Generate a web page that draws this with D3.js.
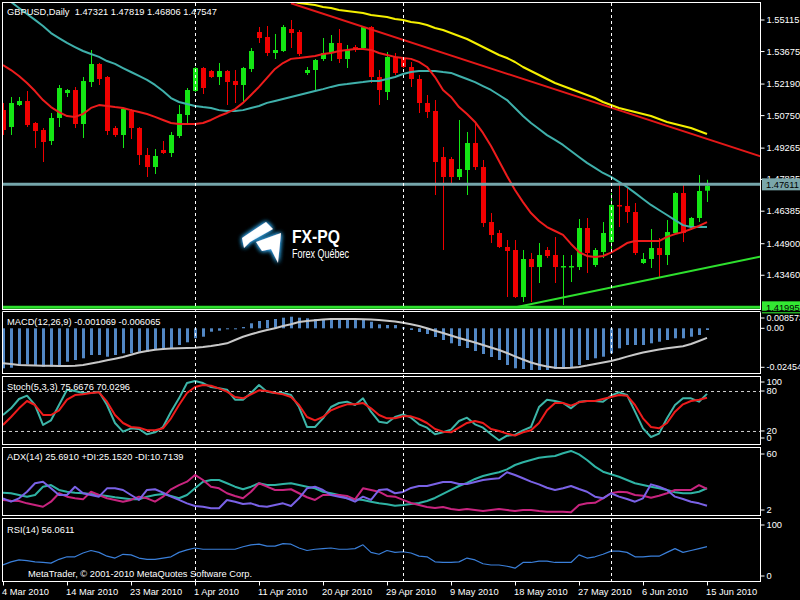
<!DOCTYPE html>
<html><head><meta charset="utf-8">
<script src="https://cdn.jsdelivr.net/npm/d3@7"></script>
<style>
html,body{margin:0;padding:0;background:#000;}
svg{display:block;}
</style></head><body>
<svg id="chart" width="800" height="600"></svg>
<script>
// ---------------- DATA ----------------
const symbol = "GBPUSD", timeframe = "Daily";
const tickIdx = [0, 8, 16, 24, 32, 40, 48, 56, 64, 72, 80, 88];
const tickLabels = ["4 Mar 2010","14 Mar 2010","23 Mar 2010","1 Apr 2010","11 Apr 2010","20 Apr 2010","29 Apr 2010","9 May 2010","18 May 2010","27 May 2010","6 Jun 2010","15 Jun 2010"];
const separatorIdx = [24, 50, 76];

const opens  = [1.51005,1.50229,1.51234,1.51416,1.50412,1.50092,1.49590,1.50640,1.51781,1.51918,1.50366,1.52284,1.53106,1.52512,1.50183,1.49864,1.50960,1.50183,1.48950,1.48402,1.49179,1.49042,1.49818,1.50777,1.51873,1.52923,1.52786,1.52512,1.52786,1.52329,1.52147,1.52877,1.54567,1.54339,1.53608,1.53699,1.54704,1.54567,1.52695,1.52832,1.53334,1.53608,1.54065,1.53334,1.53882,1.53836,1.54795,1.52512,1.51827,1.53425,1.53334,1.52969,1.52421,1.51325,1.50960,1.48859,1.48768,1.47946,1.48266,1.49498,1.48402,1.45891,1.45389,1.44750,1.44613,1.42466,1.44202,1.43836,1.44613,1.44384,1.43836,1.43836,1.43836,1.45617,1.43928,1.44521,1.44978,1.46667,1.46622,1.46348,1.44019,1.44202,1.44704,1.44384,1.45389,1.47215,1.45663,1.46074,1.47321];
const highs  = [1.51325,1.51599,1.51599,1.51873,1.50457,1.50183,1.50868,1.52147,1.51964,1.52055,1.52512,1.53745,1.53151,1.52558,1.50275,1.51096,1.51051,1.50229,1.49270,1.49224,1.49590,1.50001,1.51234,1.52010,1.52969,1.52969,1.52832,1.53151,1.52832,1.52832,1.52969,1.53836,1.54795,1.54841,1.54476,1.54886,1.55115,1.54658,1.52969,1.53334,1.54293,1.54430,1.54704,1.53973,1.53973,1.54841,1.54841,1.52832,1.53654,1.53608,1.53380,1.53197,1.52603,1.51690,1.51462,1.49316,1.48859,1.50549,1.50001,1.50457,1.48722,1.46302,1.45526,1.45069,1.45069,1.44613,1.44476,1.44932,1.44750,1.45206,1.44384,1.44384,1.46028,1.46074,1.44704,1.45891,1.47215,1.47672,1.47444,1.46759,1.44476,1.45571,1.45160,1.45982,1.47261,1.47672,1.46119,1.48037,1.47819];
const lows   = [1.49864,1.49864,1.51188,1.50229,1.49270,1.48631,1.49407,1.50229,1.51599,1.50183,1.49727,1.52055,1.52147,1.49864,1.49772,1.49270,1.49681,1.48494,1.47946,1.48083,1.48996,1.48859,1.49727,1.50412,1.51827,1.51736,1.52466,1.52147,1.51234,1.51325,1.51325,1.52740,1.54065,1.53471,1.53334,1.53654,1.53836,1.53471,1.52603,1.51873,1.53243,1.53243,1.53151,1.52923,1.53654,1.53790,1.52238,1.51234,1.51462,1.52603,1.52923,1.52055,1.50868,1.50640,1.47124,1.44613,1.47581,1.47809,1.47124,1.48266,1.45663,1.44932,1.44704,1.42466,1.42421,1.42238,1.42238,1.43106,1.44247,1.43106,1.42101,1.43151,1.43699,1.43562,1.43836,1.44247,1.44476,1.45663,1.45845,1.44384,1.43973,1.43791,1.43380,1.43928,1.45343,1.44978,1.45526,1.45891,1.46806];
const closes = [1.50092,1.51325,1.51416,1.50320,1.50046,1.49544,1.50640,1.52010,1.51918,1.50366,1.52329,1.53106,1.52421,1.50046,1.49864,1.51051,1.50183,1.48950,1.48402,1.48905,1.49042,1.49864,1.50823,1.51918,1.52923,1.52010,1.52512,1.52786,1.52284,1.52147,1.52923,1.53699,1.54293,1.53608,1.53745,1.54795,1.54521,1.53562,1.52832,1.53288,1.53608,1.54065,1.53334,1.53745,1.53745,1.54795,1.52512,1.51918,1.53425,1.52695,1.52969,1.52421,1.51325,1.50914,1.48631,1.47946,1.47946,1.48311,1.49498,1.48402,1.45845,1.45297,1.44750,1.44567,1.42466,1.44202,1.43836,1.44384,1.44339,1.43836,1.43882,1.43882,1.45617,1.44476,1.44613,1.45389,1.46667,1.46622,1.46348,1.44476,1.44202,1.44704,1.44384,1.45434,1.47215,1.45389,1.46074,1.47307,1.47547];

const maFast = [1.5306,1.5283,1.5256,1.5224,1.5187,1.5146,1.5114,1.5091,1.5073,1.5069,1.5082,1.5110,1.5123,1.5119,1.5114,1.5110,1.5100,1.5091,1.5082,1.5069,1.5055,1.5041,1.5037,1.5037,1.5037,1.5041,1.5055,1.5073,1.5087,1.5105,1.5133,1.5169,1.5206,1.5247,1.5288,1.5315,1.5334,1.5338,1.5343,1.5347,1.5356,1.5361,1.5370,1.5375,1.5379,1.5379,1.5375,1.5361,1.5352,1.5343,1.5338,1.5334,1.5320,1.5297,1.5251,1.5192,1.5160,1.5114,1.5082,1.5046,1.4996,1.4936,1.4868,1.4799,1.4735,1.4680,1.4630,1.4594,1.4566,1.4548,1.4530,1.4489,1.4452,1.4434,1.4429,1.4434,1.4449,1.4470,1.4493,1.4502,1.4502,1.4502,1.4502,1.4521,1.4534,1.4543,1.4557,1.4571,1.4589];
const maSlow = [1.5626,1.5594,1.5566,1.5539,1.5512,1.5484,1.5452,1.5429,1.5407,1.5388,1.5370,1.5356,1.5343,1.5324,1.5311,1.5292,1.5274,1.5256,1.5238,1.5215,1.5187,1.5155,1.5137,1.5128,1.5119,1.5114,1.5110,1.5100,1.5096,1.5096,1.5100,1.5110,1.5119,1.5133,1.5142,1.5151,1.5160,1.5169,1.5178,1.5187,1.5196,1.5206,1.5215,1.5219,1.5224,1.5228,1.5233,1.5233,1.5242,1.5251,1.5265,1.5274,1.5279,1.5279,1.5279,1.5274,1.5270,1.5256,1.5242,1.5228,1.5210,1.5192,1.5169,1.5146,1.5110,1.5073,1.5041,1.5014,1.4986,1.4964,1.4941,1.4913,1.4886,1.4859,1.4836,1.4813,1.4795,1.4772,1.4749,1.4722,1.4694,1.4667,1.4644,1.4621,1.4598,1.4575,1.4566,1.4566,1.4566];
const maLongStart = 36;
const maLong = [1.55982,1.55891,1.55845,1.55800,1.55708,1.55663,1.55571,1.55526,1.55480,1.55434,1.55343,1.55297,1.55252,1.55160,1.55115,1.55023,1.54978,1.54886,1.54749,1.54658,1.54521,1.54384,1.54247,1.54065,1.53882,1.53699,1.53517,1.53380,1.53197,1.52969,1.52786,1.52603,1.52421,1.52238,1.52101,1.51964,1.51827,1.51690,1.51553,1.51370,1.51234,1.51096,1.51005,1.50914,1.50823,1.50731,1.50594,1.50457,1.50366,1.50275,1.50183,1.50046,1.49909];

const redTrendIdx = [36, 95], redTrendPrice = [1.5588, 1.4885];
const greenTrendIdx = [64.25, 94.75], greenTrendPrice = [1.4201, 1.4432];
const hLinePrices = [1.47611, 1.41995];
const priceTicks = [1.55115,1.53675,1.52190,1.50750,1.49265,1.47835,1.46385,1.44900,1.43460];

const macdMain = [-0.02517,-0.02480,-0.02310,-0.02266,-0.02310,-0.02417,-0.02417,-0.02310,-0.02102,-0.01995,-0.01888,-0.01680,-0.01680,-0.01787,-0.01680,-0.01573,-0.01573,-0.01473,-0.01473,-0.01366,-0.01259,-0.01259,-0.01051,-0.00881,-0.00629,-0.00529,-0.00214,-0.00150,-0.00044,-0.00020,0.00080,0.00315,0.00459,0.00522,0.00585,0.00667,0.00730,0.00667,0.00629,0.00585,0.00585,0.00585,0.00585,0.00585,0.00585,0.00522,0.00415,0.00252,0.00208,0.00208,0.00050,-0.00107,-0.00233,-0.00359,-0.00548,-0.00736,-0.00944,-0.01114,-0.01240,-0.01429,-0.01617,-0.01806,-0.01995,-0.02310,-0.02517,-0.02561,-0.02624,-0.02624,-0.02624,-0.02561,-0.02561,-0.02480,-0.02310,-0.01995,-0.01888,-0.01787,-0.01573,-0.01259,-0.01051,-0.01051,-0.01051,-0.00944,-0.00843,-0.00736,-0.00629,-0.00629,-0.00529,-0.00422,-0.001069];
const macdSignal = [-0.02203,-0.02247,-0.02310,-0.02328,-0.02341,-0.02354,-0.02360,-0.02373,-0.02373,-0.02360,-0.02310,-0.02215,-0.02121,-0.02014,-0.01913,-0.01806,-0.01661,-0.01523,-0.01429,-0.01353,-0.01303,-0.01278,-0.01259,-0.01240,-0.01221,-0.01177,-0.01114,-0.01038,-0.00944,-0.00736,-0.00529,-0.00378,-0.00233,-0.00107,0.00006,0.00145,0.00258,0.00396,0.00459,0.00510,0.00554,0.00579,0.00585,0.00585,0.00585,0.00573,0.00548,0.00522,0.00478,0.00428,0.00346,0.00252,0.00145,0.00000,-0.00151,-0.00296,-0.00453,-0.00610,-0.00755,-0.00894,-0.01051,-0.01208,-0.01366,-0.01554,-0.01762,-0.01963,-0.02152,-0.02297,-0.02404,-0.02480,-0.02498,-0.02486,-0.02435,-0.02347,-0.02247,-0.02146,-0.02058,-0.01932,-0.01781,-0.01649,-0.01523,-0.01429,-0.01340,-0.01259,-0.01189,-0.01133,-0.00988,-0.00799,-0.006065];
const macdTicks = [0.008573, 0.00, -0.02454];
const macdTickLabels = ["0.008573", "0.00", "-0.02454"];

const stochK = [44,54,68,73,59,29,36,59,82,80,77,77,79,59,32,19,24,23,15,18,26,49,69,92,95,92,86,84,82,67,67,77,89,79,77,77,74,56,26,26,39,56,62,64,59,69,49,34,32,41,45,40,30,25,15,18,22,35,40,30,25,15,6,13,14,21,26,56,67,65,62,54,64,65,65,64,73,78,74,49,24,11,16,39,59,69,69,64,75.67];
const stochD = [29,41,54,65,59,44,44,51,67,74,75,77,78,64,44,32,26,25,21,21,24,39,59,77,86,89,88,84,79,71,69,75,81,80,77,75,71,59,41,36,41,51,56,60,60,62,54,44,39,39,42,42,38,32,23,19,18,25,32,35,32,23,20,16,13,18,21,32,51,62,62,58,63,65,65,68,71,74,73,59,39,26,24,32,49,60,65,67,70.03];
const stochLevels = [80, 20];
const stochTicks = [100, 80, 20, 0];

const adxMain = [21.9,21.4,19.9,18.5,19.9,27.0,28.4,24.2,22.7,21.9,21.4,20.8,19.9,19.1,18.0,17.1,16.2,16.2,18.5,19.9,20.8,19.1,17.1,19.9,25.6,31.3,32.7,32.7,29.9,27.0,24.8,27.0,29.9,28.4,28.4,29.3,29.9,28.4,27.0,25.6,22.7,21.4,19.9,17.1,16.2,15.7,14.2,12.8,12.0,10.8,11.4,12.2,13.1,14.8,17.4,20.8,24.2,27.6,30.2,33.6,36.1,37.8,39.3,41.8,45.5,47.8,49.8,51.7,52.6,53.2,55.5,57.5,54.6,49.8,44.1,39.8,37.6,35.5,32.7,29.9,28.4,27.0,25.6,24.2,22.2,21.4,21.4,22.7,25.69];
const plusDI = [15.7,15.1,14.8,12.8,11.4,9.9,14.2,21.4,18.5,17.1,16.2,22.7,19.9,17.1,15.7,14.2,15.7,18.5,17.1,14.2,18.5,24.8,28.4,31.3,37.0,32.7,27.0,25.6,21.4,19.1,17.1,22.7,29.9,27.0,24.2,24.2,24.8,21.4,18.0,15.7,19.9,19.9,19.9,19.1,16.2,25.6,24.2,22.7,19.1,18.5,15.7,13.1,11.4,9.7,8.8,9.7,8.0,7.1,8.0,7.1,6.3,7.1,8.0,7.1,6.3,7.1,7.1,6.3,5.7,5.7,5.7,5.2,11.4,12.8,13.3,17.1,21.4,22.7,22.2,19.9,19.3,17.6,19.3,21.4,24.2,24.2,24.2,28.4,25.15];
const minusDI = [17.1,14.2,17.1,22.7,29.9,31.3,25.6,19.9,19.9,27.0,21.4,19.9,18.5,25.6,25.6,24.2,19.9,15.7,24.2,24.8,21.9,18.5,15.7,12.8,10.5,9.9,8.6,8.6,15.7,14.2,12.2,12.8,10.5,9.9,11.4,12.8,10.5,17.1,25.6,27.0,24.2,19.9,18.5,17.1,14.2,18.5,15.7,24.2,24.8,21.4,22.5,25.9,27.6,27.6,29.3,31.0,31.0,29.3,29.3,31.0,32.7,33.6,34.2,39.3,37.0,34.2,31.3,29.0,26.1,24.2,25.6,27.6,25.0,22.7,18.5,17.1,21.4,18.5,16.5,14.2,17.1,29.0,27.0,24.2,18.5,16.5,14.2,12.8,10.71];
const adxTicks = [60, 2];

const rsi = [27,32,35,34,32,31,30,36,40,40,46,50,47,41,38,44,43,38,36,36,38,40,47,51,54,52,52,52,52,52,56,59,60,57,57,61,60,54,50,52,53,54,52,52,53,59,47,44,50,47,48,46,41,40,32,31,31,32,38,35,29,27,27,25,22,31,31,33,33,31,31,31,43,38,40,44,49,49,47,40,40,41,41,47,53,47,50,53,56.06];
const rsiTicks = [100, 0];

// ---------------- LAYOUT ----------------
const FONT = '"Liberation Sans", Arial, sans-serif';
const FS = 9.3;
const XL = 3, XR = 761;
const P = {
  main:  {top: 3,   bottom: 310},
  macd:  {top: 312, bottom: 374},
  stoch: {top: 377, bottom: 445},
  adx:   {top: 448, bottom: 516},
  rsi:   {top: 519, bottom: 582}
};
const n = closes.length;
const svg = d3.select("#chart");
svg.append("rect").attr("width", 800).attr("height", 600).attr("fill", "#000");
const defs = svg.append("defs");
Object.entries(P).forEach(([k, p]) => {
  defs.append("clipPath").attr("id", "clip-" + k)
    .append("rect").attr("x", XL).attr("y", p.top).attr("width", XR - XL).attr("height", p.bottom - p.top);
});
const glow = defs.append("filter").attr("id", "glow").attr("x", "-50%").attr("y", "-50%").attr("width", "200%").attr("height", "200%");
glow.append("feGaussianBlur").attr("in", "SourceAlpha").attr("stdDeviation", 2.6).attr("result", "b");
glow.append("feFlood").attr("flood-color", "#35b6ff").attr("result", "f");
glow.append("feComposite").attr("in", "f").attr("in2", "b").attr("operator", "in").attr("result", "g");
const gm = glow.append("feMerge");
gm.append("feMergeNode").attr("in", "g");
gm.append("feMergeNode").attr("in", "g");
gm.append("feMergeNode").attr("in", "SourceGraphic");

const x = d3.scaleLinear().domain([0, n - 1]).range([3, 707]);
const yMain = d3.scaleLinear().domain([1.43460, 1.55115]).range([275.25, 20]);
const yMacd = d3.scaleLinear().domain([-0.02454, 0]).range([367.3, 328.3]);
const yStoch = d3.scaleLinear().domain([0, 100]).range([444.3, 377.7]);
const yAdx = d3.scaleLinear().domain([2, 60]).range([516, 448]);
const yRsi = d3.scaleLinear().domain([0, 100]).range([582, 519]);

function panelG(k) { return svg.append("g").attr("clip-path", `url(#clip-${k})`); }
function drawLine(g, data, ys, color, w, offset = 0) {
  const line = d3.line().defined(d => d != null).x((d, i) => x(i + offset)).y(d => ys(d));
  g.append("path").datum(data).attr("d", line).attr("fill", "none")
    .attr("stroke", color).attr("stroke-width", w).attr("stroke-linejoin", "round");
}

// ---------------- MAIN PANEL ----------------
const gMain = panelG("main");
// logo
const logo = gMain.append("g");
logo.append("path").attr("d", "M242,238 L266,222 L273,229 L250,242 L244,248 Z").attr("fill", "#fff").attr("filter", "url(#glow)");
logo.append("path").attr("d", "M256,242 L281,233 L278,263 L271,249 L262,251 Z").attr("fill", "#fff").attr("filter", "url(#glow)");
logo.append("text").attr("x", 292).attr("y", 243).attr("fill", "#fff").attr("font-family", FONT)
  .attr("font-weight", "bold").attr("font-size", 18).attr("textLength", 48).attr("lengthAdjust", "spacingAndGlyphs").text("FX-PQ");
logo.append("text").attr("x", 292).attr("y", 258).attr("fill", "#fff").attr("font-family", FONT)
  .attr("font-size", 12).attr("textLength", 57).attr("lengthAdjust", "spacingAndGlyphs").text("Forex Québec");

const candles = closes.map((c, i) => ({i, o: opens[i], h: highs[i], l: lows[i], c}));
const bull = "#14e614", bear = "#f00000";
const gc = gMain.append("g");
gc.selectAll("line.wick").data(candles).join("line").attr("class", "wick")
  .attr("x1", d => x(d.i) + 0.5).attr("x2", d => x(d.i) + 0.5)
  .attr("y1", d => yMain(d.h)).attr("y2", d => yMain(d.l))
  .attr("stroke", d => d.c >= d.o ? bull : bear).attr("stroke-width", 1);
gc.selectAll("rect.body").data(candles).join("rect").attr("class", "body")
  .attr("x", d => x(d.i) - 2).attr("width", 5)
  .attr("y", d => yMain(Math.max(d.o, d.c)))
  .attr("height", d => Math.max(1.5, Math.abs(yMain(d.o) - yMain(d.c))))
  .attr("fill", d => d.c >= d.o ? bull : bear);

drawLine(gMain, maSlow, yMain, "#3fb0ab", 2);
drawLine(gMain, maFast, yMain, "#ee1c1c", 2);
drawLine(gMain, maLong, yMain, "#f5f000", 2, maLongStart);

const trend = (idx, pr) => idx.map((d, k) => [d, pr[k]]);
const tl = d3.line().x(d => x(d[0])).y(d => yMain(d[1]));
gMain.append("path").attr("d", tl(trend(redTrendIdx, redTrendPrice))).attr("stroke", "#e41818").attr("stroke-width", 2).attr("fill", "none");
gMain.append("line").attr("x1", XL).attr("x2", XR).attr("y1", yMain(hLinePrices[0])).attr("y2", yMain(hLinePrices[0]))
  .attr("stroke", "#74a5aa").attr("stroke-width", 3);
gMain.append("line").attr("x1", XL).attr("x2", XR).attr("y1", yMain(hLinePrices[1])).attr("y2", yMain(hLinePrices[1]))
  .attr("stroke", "#2ee02e").attr("stroke-width", 3);
gMain.append("path").attr("d", tl(trend(greenTrendIdx, greenTrendPrice))).attr("stroke", "#2ee02e").attr("stroke-width", 2).attr("fill", "none");

// ---------------- MACD ----------------
const gMacd = panelG("macd");
gMacd.selectAll("rect").data(macdMain).join("rect")
  .attr("x", (d, i) => x(i) - 1).attr("width", 3)
  .attr("y", d => Math.min(yMacd(d), yMacd(0)))
  .attr("height", d => Math.max(1, Math.abs(yMacd(d) - yMacd(0))))
  .attr("fill", "#5287c4");
drawLine(gMacd, macdSignal, yMacd, "#c8c8c8", 2);

// ---------------- STOCH ----------------
const gSt = panelG("stoch");
stochLevels.forEach(v => gSt.append("line").attr("x1", XL).attr("x2", XR).attr("y1", yStoch(v) + 0.5).attr("y2", yStoch(v) + 0.5)
  .attr("stroke", "#d0d0d0").attr("stroke-dasharray", "3,3").attr("stroke-width", 1));
drawLine(gSt, stochK, yStoch, "#3db5a8", 2);
drawLine(gSt, stochD, yStoch, "#ee1c1c", 2);

// ---------------- ADX ----------------
const gAdx = panelG("adx");
drawLine(gAdx, adxMain, yAdx, "#2fb3a4", 2);
drawLine(gAdx, plusDI, yAdx, "#c8247f", 2);
drawLine(gAdx, minusDI, yAdx, "#7a62e6", 2);

// ---------------- RSI ----------------
const gRsi = panelG("rsi");
drawLine(gRsi, rsi, yRsi, "#3a7fd9", 1.2);

// ---------------- separators & frames ----------------
separatorIdx.forEach(i => svg.append("line").attr("x1", x(i) + 0.5).attr("x2", x(i) + 0.5).attr("y1", 3).attr("y2", 582)
  .attr("stroke", "#ffffff").attr("stroke-dasharray", "3,3").attr("stroke-width", 1));
Object.values(P).forEach(p => svg.append("rect").attr("x", XL - 0.5).attr("y", p.top - 0.5)
  .attr("width", XR - XL).attr("height", p.bottom - p.top).attr("fill", "none").attr("stroke", "#fff").attr("stroke-width", 1));

// ---------------- axes ----------------
function rightAxis(scale, ticks, fmt, p, fs) {
  const g = svg.append("g").attr("transform", `translate(${XR - 0.5},0)`)
    .call(d3.axisRight(scale).tickValues(ticks).tickFormat(fmt).tickSize(4).tickPadding(2));
  g.select(".domain").remove();
  g.selectAll(".tick").attr("transform", d => `translate(0,${Math.min(Math.max(scale(d), p.top + 6), p.bottom - 6)})`);
  g.selectAll("line").attr("stroke", "#fff");
  g.selectAll("text").attr("fill", "#fff").attr("font-family", FONT).attr("font-size", fs || FS);
  return g;
}
rightAxis(yMain, priceTicks, d => d.toFixed(5), {top: -100, bottom: 1000});
rightAxis(yMacd, macdTicks, (d, i) => macdTickLabels[i], P.macd, 9);
rightAxis(yStoch, stochTicks, d => String(d), {top: 376, bottom: 444});
rightAxis(yAdx, adxTicks, d => String(d), P.adx);
rightAxis(yRsi, rsiTicks, d => String(d), P.rsi);

// highlighted price labels
const hlColors = ["#7aa6aa", "#33e833"];
hLinePrices.forEach((pv, k) => {
  const yy = yMain(pv);
  svg.append("rect").attr("x", XR + 1).attr("y", yy - 6).attr("width", 40).attr("height", 12).attr("fill", hlColors[k]);
  svg.append("text").attr("x", XR + 5).attr("y", yy).attr("dy", "0.35em").attr("fill", "#000")
    .attr("font-family", FONT).attr("font-size", FS).text(pv.toFixed(5));
});
svg.append("line").attr("x1", XL - 0.5).attr("x2", 800).attr("y1", P.macd.top - 0.5).attr("y2", P.macd.top - 0.5).attr("stroke", "#000").attr("stroke-width", 1.5);
svg.append("line").attr("x1", XL - 0.5).attr("x2", XR - 0.5).attr("y1", P.macd.top - 0.5).attr("y2", P.macd.top - 0.5).attr("stroke", "#fff").attr("stroke-width", 1);

const gx = svg.append("g").attr("transform", `translate(0,${P.rsi.bottom - 0.5})`)
  .call(d3.axisBottom(x).tickValues(tickIdx).tickFormat((d, i) => tickLabels[i]).tickSize(4).tickPadding(3));
gx.select(".domain").remove();
gx.selectAll("line").attr("stroke", "#fff");
gx.selectAll("text").attr("fill", "#fff").attr("font-family", FONT).attr("font-size", FS)
  .attr("text-anchor", "start").attr("x", -1.5);

// ---------------- texts ----------------
const last = n - 1;
const hdr = `${symbol},${timeframe}  ${opens[last].toFixed(5)} ${highs[last].toFixed(5)} ${lows[last].toFixed(5)} ${closes[last].toFixed(5)}`;
const texts = [
  [7, 15, hdr],
  [7, 325, "MACD(12,26,9) -0.001069 -0.006065"],
  [7, 390, "Stoch(5,3,3) 75.6676 70.0296"],
  [7, 460, "ADX(14) 25.6910 +DI:25.1520 -DI:10.7139"],
  [7, 533, "RSI(14) 56.0611"],
  [28, 577, "MetaTrader, © 2001-2010 MetaQuotes Software Corp."]
];
texts.forEach(t => svg.append("text").attr("x", t[0]).attr("y", t[1]).attr("fill", "#fff")
  .attr("font-family", FONT).attr("font-size", FS).style("white-space", "pre").text(t[2]));
</script>
</body></html>
